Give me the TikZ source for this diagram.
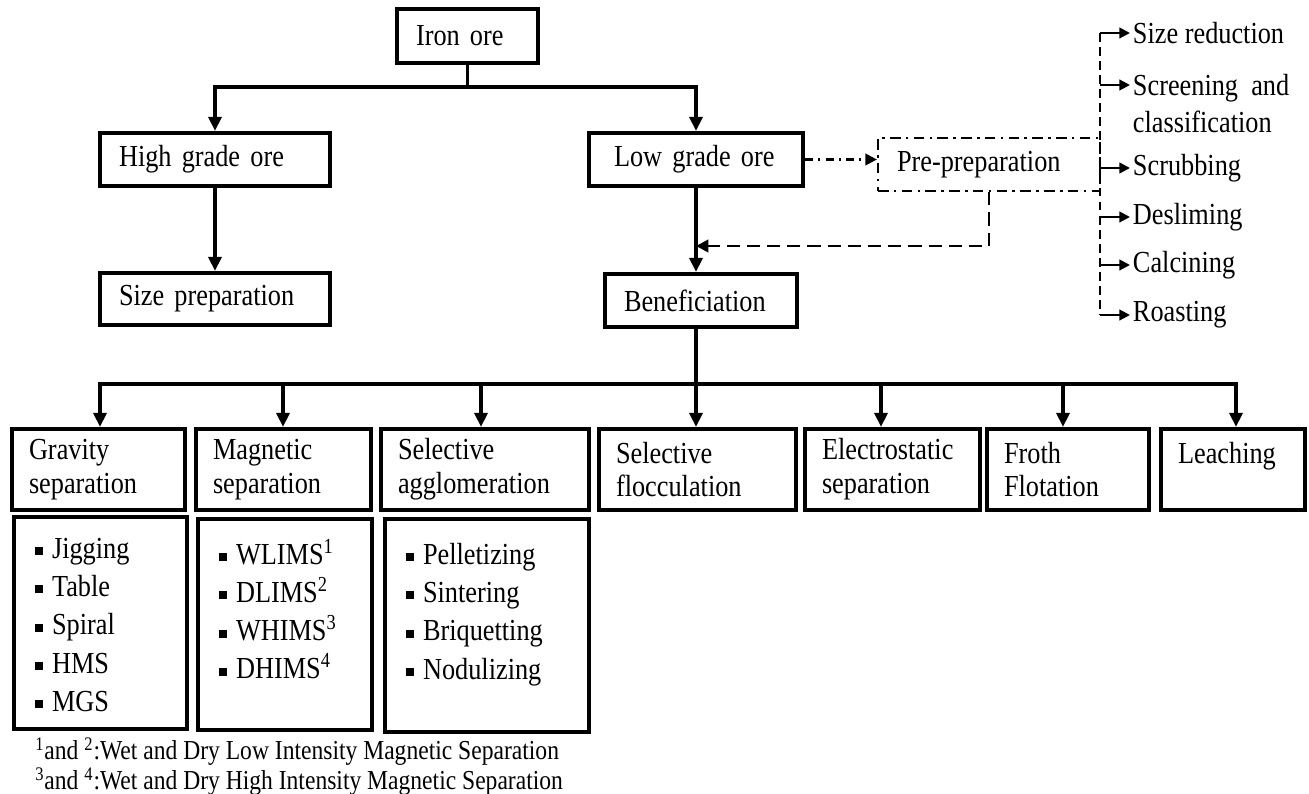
\documentclass[tikz,border=0pt]{standalone}
\usepackage{fontspec}
\setmainfont{Liberation Serif}[FakeStretch=0.86]
\usetikzlibrary{arrows.meta, positioning}

% small square bullet and a fixed-height item column
\newcommand{\sqitem}{\rule[0.22ex]{0.26em}{0.26em}\hspace{0.3em}}
\newcommand{\itemcol}[4]{\parbox[t][#1][t]{#2}{\vspace*{#3}\leftskip=0.42cm\relax #4}}

\begin{document}
\begin{tikzpicture}[
    x=0.02cm, y=-0.02cm,
    every node/.style={font=\fontsize{17.4}{19.3}\selectfont},
    box/.style={
        draw, line width=2.4pt,
        align=left,
        inner xsep=0.38cm, inner ysep=3pt
    },
    catbox/.style={box, inner xsep=0.34cm, minimum height=1.62cm},
    prebox/.style={
        draw, line width=1.3pt,
        dash pattern=on 6pt off 3pt on 1.5pt off 3pt,
        align=left, inner xsep=0.38cm
    },
    listbox/.style={
        draw, line width=2.2pt,
        anchor=north west, inner sep=0pt,
        font=\fontsize{17.4}{21.8}\selectfont
    },
    stage/.style={anchor=west, inner xsep=1.5pt, align=left},
    conn/.style={line width=2pt},
    arr/.style={conn, -{Triangle[length=8pt, width=7.4pt]}},
    backarr/.style={line width=1.6pt, dash pattern=on 7.5pt off 4pt,
        -{Triangle[length=7pt, width=7pt]}},
    prearr/.style={line width=1.3pt,
        dash pattern=on 4.5pt off 3pt on 1.2pt off 3pt,
        -{Triangle[length=6.5pt, width=6.5pt]}},
    spine/.style={line width=1.2pt, dash pattern=on 5pt off 3pt},
    tinyarr/.style={line width=1.2pt, -{Triangle[length=6pt, width=6pt]}}
]
\useasboundingbox (0,0) rectangle (1309,794);

% ------- Top: ore grades -------
\node[box, text width=2.06cm, minimum height=1.08cm] (iron) at (467.5,36) {Iron ore};
\node[box, text width=3.84cm, minimum height=1.06cm] (high) at (215,159.5) {High grade ore};
\node[box, text width=3.84cm, minimum height=1.04cm] (sizeprep) at (215,299) {Size preparation};
\node[box, inner xsep=0.5cm, text width=3.28cm, minimum height=1.06cm] (low) at (696,159.5) {Low grade ore};
\node[prebox, text width=3.68cm, minimum height=1.06cm] (pre) at (989,164.5) {Pre-preparation};
\node[box, text width=3.08cm, minimum height=1.06cm] (benef) at (701,300.5) {Beneficiation};

\coordinate (split) at (467.5,87);
\draw[conn] (iron) -- (split);
\draw[arr] (split) -| (high);
\draw[arr] (split) -| (low);
\draw[arr] (high) -- (sizeprep);
\draw[arr] (low.south) -- (low.south |- benef.north);
\draw[prearr] (low.east) -- (low.east -| pre.west);
\coordinate (back) at (696,246);
\draw[backarr] (pre.south) |- (back);

% ------- Pre-preparation stages -------
\node[stage] (sizered) at (1130,33) {Size reduction};
\node[stage, font=\fontsize{17.4}{21}\selectfont] (screen) at (1130,103.5)
    {Screening \ and\\classification};
\node[stage] (scrub) at (1130,168) {Scrubbing};
\node[stage] (deslime) at (1130,217) {Desliming};
\node[stage] (calcine) at (1130,265) {Calcining};
\node[stage] (roast) at (1130,315) {Roasting};

\foreach \k/\y in {1/33, 2/85, 3/168, 4/217, 5/265, 6/315}
    \coordinate (sp\k) at (1100,\y);
\draw[spine] (sp1) -- (sp6);
\foreach \k/\n in {1/sizered, 2/screen, 3/scrub, 4/deslime, 5/calcine, 6/roast}
    \draw[tinyarr] (sp\k) -- (sp\k -| \n.west);

% ------- Beneficiation methods -------
\node[catbox, text width=2.78cm] (grav) at (98.5,469.5) {Gravity\\separation};
\node[catbox, text width=2.82cm] (mag) at (283.5,469.5) {Magnetic\\separation};
\node[catbox, text width=3.48cm] (agg) at (485,469.5) {Selective\\agglomeration};
\node[catbox, text width=3.26cm] (floc) at (697.5,469.5) {Selective\\flocculation};
\node[catbox, text width=2.82cm] (elec) at (892.5,469.5) {Electrostatic\\separation};
\node[catbox, text width=2.56cm] (froth) at (1068,469.5) {Froth\\Flotation};
\node[catbox, text width=2.2cm] (leach) at (1233,469.5) {Leaching\\\mbox{}};

\coordinate (bus) at (696,384);
\foreach \n/\x in {grav/100, mag/283, agg/481, floc/696, elec/881, froth/1063, leach/1236}
    \coordinate (bus-\n) at (\x,384);
\draw[conn] (benef.south -| low.south) -- (bus);
\draw[arr] (bus) -| (bus-grav |- grav.north);
\draw[arr] (bus) -| (bus-leach |- leach.north);
\foreach \n in {mag, agg, floc, elec, froth}
    \draw[arr] (bus-\n) -- (bus-\n |- \n.north);

% ------- Item lists -------
\node[listbox] (glist) at (12,515) {\itemcol{4.24cm}{3.46cm}{0.42cm}{%
    \sqitem Jigging\\ \sqitem Table\\ \sqitem Spiral\\ \sqitem HMS\\ \sqitem MGS}};
\node[listbox] (mlist) at (196,517) {\itemcol{4.22cm}{3.48cm}{0.4cm}{%
    \sqitem WLIMS\textsuperscript{1}\\ \sqitem DLIMS\textsuperscript{2}\\
    \sqitem WHIMS\textsuperscript{3}\\ \sqitem DHIMS\textsuperscript{4}}};
\node[listbox] (alist) at (383,517) {\itemcol{4.26cm}{4.08cm}{0.48cm}{%
    \sqitem Pelletizing\\ \sqitem Sintering\\ \sqitem Briquetting\\ \sqitem Nodulizing}};

% footnote
\node[anchor=west, align=left, inner sep=0pt, font=\fontsize{15.6}{15.6}\selectfont] (note) at (35,766.5)
    {\textsuperscript{1}and \textsuperscript{2}:Wet and Dry Low Intensity Magnetic Separation\\
     \textsuperscript{3}and \textsuperscript{4}:Wet and Dry High Intensity Magnetic Separation};
\end{tikzpicture}
\end{document}
